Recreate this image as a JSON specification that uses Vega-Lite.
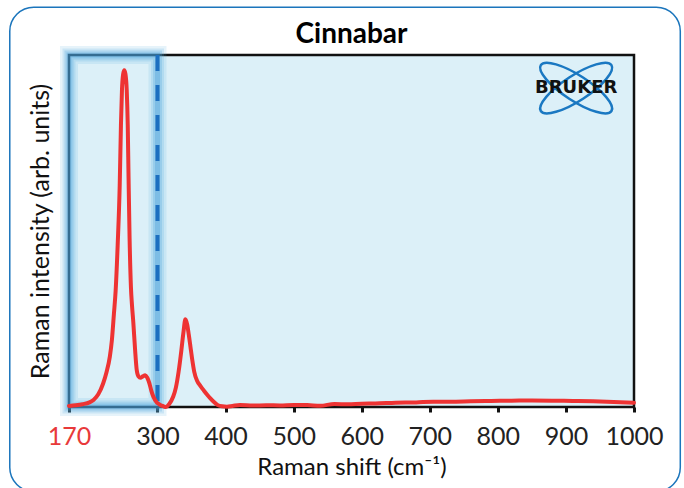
{
  "$schema": "https://vega.github.io/schema/vega-lite/v6.json",
  "width": 565,
  "height": 352,
  "autosize": {"type": "none"},
  "padding": {"left": 69, "top": 55, "right": 50, "bottom": 81},
  "background": "white",
  "title": {"text": "Cinnabar", "fontSize": 28, "fontWeight": "bold", "font": "Lato", "color": "#000", "offset": -43, "frame": "group"},
  "datasets": {
    "spectrum": [
      {"shift": 170, "intensity": 0.3},
      {"shift": 180, "intensity": 0.5},
      {"shift": 190, "intensity": 0.8},
      {"shift": 200, "intensity": 1.3},
      {"shift": 206, "intensity": 2.0},
      {"shift": 213, "intensity": 3.6},
      {"shift": 220, "intensity": 6.6},
      {"shift": 225, "intensity": 9.8},
      {"shift": 230, "intensity": 14.3},
      {"shift": 233, "intensity": 19},
      {"shift": 236, "intensity": 26.5},
      {"shift": 238.5, "intensity": 33},
      {"shift": 241.5, "intensity": 46},
      {"shift": 244.5, "intensity": 63},
      {"shift": 246.3, "intensity": 80},
      {"shift": 247.8, "intensity": 90},
      {"shift": 249.5, "intensity": 94.5},
      {"shift": 251.2, "intensity": 95.7},
      {"shift": 253, "intensity": 94.5},
      {"shift": 254.8, "intensity": 90},
      {"shift": 256.3, "intensity": 80},
      {"shift": 257.5, "intensity": 65},
      {"shift": 259, "intensity": 48},
      {"shift": 261, "intensity": 34},
      {"shift": 262.5, "intensity": 29},
      {"shift": 264.5, "intensity": 24},
      {"shift": 267, "intensity": 16.5},
      {"shift": 269.5, "intensity": 10.5},
      {"shift": 272, "intensity": 8.7},
      {"shift": 275, "intensity": 8.3},
      {"shift": 278.5, "intensity": 8.7},
      {"shift": 282, "intensity": 9.0},
      {"shift": 285, "intensity": 8.3},
      {"shift": 288, "intensity": 6.8},
      {"shift": 291, "intensity": 4.6},
      {"shift": 294, "intensity": 2.9},
      {"shift": 299, "intensity": 1.3},
      {"shift": 304, "intensity": 0.6},
      {"shift": 309, "intensity": 0.2},
      {"shift": 312.5, "intensity": 0.0},
      {"shift": 317, "intensity": 0.8},
      {"shift": 323, "intensity": 2.9},
      {"shift": 327, "intensity": 5.5},
      {"shift": 331, "intensity": 10},
      {"shift": 335, "intensity": 16},
      {"shift": 338, "intensity": 21},
      {"shift": 341, "intensity": 24.9},
      {"shift": 343.5, "intensity": 23.5},
      {"shift": 346, "intensity": 20.5},
      {"shift": 348.5, "intensity": 17},
      {"shift": 351, "intensity": 13.5},
      {"shift": 354, "intensity": 10},
      {"shift": 358, "intensity": 7.5},
      {"shift": 363, "intensity": 6.0},
      {"shift": 368, "intensity": 4.7},
      {"shift": 373, "intensity": 3.5},
      {"shift": 378, "intensity": 2.4},
      {"shift": 383, "intensity": 1.4},
      {"shift": 388, "intensity": 0.6},
      {"shift": 395, "intensity": 0.2},
      {"shift": 402, "intensity": 0.1},
      {"shift": 410, "intensity": 0.3},
      {"shift": 421, "intensity": 0.6},
      {"shift": 440, "intensity": 0.4},
      {"shift": 460, "intensity": 0.5},
      {"shift": 480, "intensity": 0.45},
      {"shift": 500, "intensity": 0.6},
      {"shift": 520, "intensity": 0.55},
      {"shift": 539, "intensity": 0.35},
      {"shift": 560, "intensity": 0.85},
      {"shift": 580, "intensity": 0.75},
      {"shift": 600, "intensity": 0.95},
      {"shift": 620, "intensity": 1.0},
      {"shift": 650, "intensity": 1.2},
      {"shift": 680, "intensity": 1.3},
      {"shift": 705, "intensity": 1.5},
      {"shift": 730, "intensity": 1.5},
      {"shift": 760, "intensity": 1.6},
      {"shift": 790, "intensity": 1.7},
      {"shift": 820, "intensity": 1.8},
      {"shift": 850, "intensity": 1.85},
      {"shift": 880, "intensity": 1.8},
      {"shift": 910, "intensity": 1.7},
      {"shift": 940, "intensity": 1.6},
      {"shift": 970, "intensity": 1.4},
      {"shift": 1000, "intensity": 1.2}
    ]
  },
  "layer": [
    {
      "data": {"values": [{}]},
      "mark": {"type": "rect", "fill": null, "stroke": "#1b75bc", "strokeWidth": 1.5, "cornerRadius": 24, "clip": false},
      "encoding": {
        "x": {"datum": 83, "type": "quantitative"},
        "x2": {"datum": 1068},
        "y": {"datum": 113.6, "type": "quantitative"},
        "y2": {"datum": -24}
      }
    },
    {
      "data": {"values": [{}]},
      "mark": {"type": "rect", "fill": null, "stroke": "#5aaee0", "strokeWidth": 18, "strokeOpacity": 0.15, "clip": false},
      "encoding": {"x": {"datum": 170, "type": "quantitative"}, "x2": {"datum": 300}}
    },
    {
      "data": {"values": [{}]},
      "mark": {"type": "rect", "fill": null, "stroke": "#5aaee0", "strokeWidth": 13, "strokeOpacity": 0.2, "clip": false},
      "encoding": {"x": {"datum": 170, "type": "quantitative"}, "x2": {"datum": 300}}
    },
    {
      "data": {"values": [{}]},
      "mark": {"type": "rect", "fill": null, "stroke": "#4aa3dc", "strokeWidth": 9, "strokeOpacity": 0.25, "clip": false},
      "encoding": {"x": {"datum": 170, "type": "quantitative"}, "x2": {"datum": 300}}
    },
    {
      "data": {"values": [{}]},
      "mark": {"type": "rect", "fill": null, "stroke": "#3f98d6", "strokeWidth": 5, "strokeOpacity": 0.3, "clip": false},
      "encoding": {"x": {"datum": 170, "type": "quantitative"}, "x2": {"datum": 300}}
    },
    {
      "data": {"values": [{}]},
      "mark": {"type": "rule", "stroke": "#1c6fc0", "strokeWidth": 4, "strokeDash": [16, 14]},
      "encoding": {"x": {"datum": 300, "type": "quantitative"}}
    },
    {
      "data": {"name": "spectrum"},
      "mark": {"type": "line", "color": "#ee3333", "strokeWidth": 4, "interpolate": "monotone", "strokeCap": "round", "strokeJoin": "round"},
      "encoding": {
        "x": {
          "field": "shift",
          "type": "quantitative",
          "scale": {"domain": [170, 1000], "nice": false, "zero": false},
          "axis": {
            "values": [170, 300, 400, 500, 600, 700, 800, 900, 1000],
            "format": "d",
            "domain": false,
            "tickSize": 5,
            "tickWidth": 3,
            "tickColor": "#111",
            "labelFontSize": 25,
            "labelPadding": 12,
            "labelFlush": false,
            "labelColor": {"condition": {"test": "datum.value === 170", "value": "#e8393a"}, "value": "#222"},
            "title": "Raman shift (cm⁻¹)",
            "titleFontSize": 24,
            "titlePadding": 6
          }
        },
        "y": {
          "field": "intensity",
          "type": "quantitative",
          "scale": {"domain": [0, 100], "nice": false},
          "axis": {"labels": false, "ticks": false, "domain": false, "title": "Raman intensity (arb. units)", "titleFontSize": 25, "titlePadding": 16}
        }
      }
    },
    {
      "data": {"values": [{}]},
      "mark": {"type": "point", "shape": "M0.839,0.545A1,0.3,33,0,1,-0.839,-0.545A1,0.3,33,0,1,0.839,0.545ZM0.839,-0.545A1,0.3,-33,0,1,-0.839,0.545A1,0.3,-33,0,1,0.839,-0.545Z", "size": 7100, "filled": false, "stroke": "#1a78c2", "strokeWidth": 2.5, "opacity": 1},
      "encoding": {"x": {"datum": 915, "type": "quantitative"}, "y": {"datum": 90.6, "type": "quantitative"}}
    },
    {
      "data": {"values": [{}]},
      "mark": {"type": "text", "text": "BRUKER", "font": "DejaVu Sans", "fontWeight": "bold", "fontSize": 18, "color": "#111", "align": "center", "baseline": "middle"},
      "encoding": {"x": {"datum": 915, "type": "quantitative"}, "y": {"datum": 90.6, "type": "quantitative"}}
    }
  ],
  "config": {
    "font": "Lato",
    "view": {"fill": "#dcf0f8", "stroke": "#111", "strokeWidth": 2.5},
    "axis": {"grid": false, "labelFont": "Lato", "titleFont": "Lato", "titleFontWeight": "normal", "titleColor": "#111"}
  }
}
